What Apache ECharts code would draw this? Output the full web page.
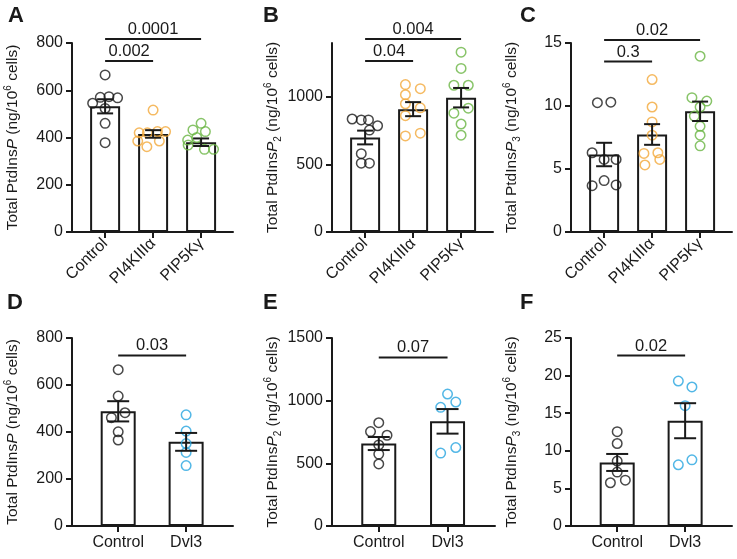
<!DOCTYPE html>
<html>
<head>
<meta charset="utf-8">
<title>Total PtdInsP</title>
<script src="https://cdn.jsdelivr.net/npm/echarts@6/dist/echarts.min.js"></script>
<style>
  html, body { margin: 0; padding: 0; background: #fff; }
  #main { width: 737px; height: 559px; }
</style>
</head>
<body>
<div id="main"></div>
<script>
// categories
var catsTop = ['Control', 'PI4KIIIα', 'PIP5Kγ'];
var catsBottom = ['Control', 'Dvl3'];

// A - PtdInsP, overexpression
var aMean = [532, 415, 380];
var aSem = [30, 16, 16];
var aPoints = [
  [665, 545, 570, 573, 568, 523, 460, 378],
  [516, 420, 420, 425, 425, 385, 361, 385],
  [460, 432, 425, 389, 400, 368, 350, 350]
];
var aJitter = [
  [0, -0.26, -0.1, 0.08, 0.26, 0, 0, 0],
  [0, -0.29, -0.12, 0.09, 0.26, -0.32, -0.13, 0.13],
  [0, -0.17, 0.09, -0.28, -0.09, -0.27, 0.07, 0.26]
];
var aSig = [[0, 1, 724], [0, 2, 817]];
var aSigText = ['0.002', '0.0001'];

// B - PtdInsP2
var bMean = [700, 910, 995];
var bSem = [51, 52, 72];
var bPoints = [
  [837, 830, 830, 787, 755, 580, 510, 510],
  [1092, 1062, 1017, 950, 920, 862, 712, 732],
  [1332, 1212, 1087, 1087, 917, 880, 800, 717]
];
var bJitter = [
  [-0.27, -0.08, 0.07, 0.26, 0.09, -0.08, -0.08, 0.09],
  [-0.16, 0.15, -0.16, -0.16, 0.15, -0.16, -0.16, 0.15],
  [0, 0, -0.15, 0.15, 0.15, -0.15, 0, 0]
];
var bSig = [[0, 1, 1267], [0, 2, 1430]];
var bSigText = ['0.04', '0.004'];

// C - PtdInsP3
var cMean = [6.15, 7.74, 9.58];
var cSem = [0.93, 0.82, 0.77];
var cPoints = [
  [10.26, 10.3, 6.29, 5.76, 5.76, 3.68, 4.08, 3.74],
  [12.1, 9.92, 8.74, 7.68, 6.24, 6.29, 5.32, 5.76],
  [13.95, 10.66, 10.39, 9.92, 9.2, 8.39, 7.68, 6.84]
];
var cJitter = [
  [-0.14, 0.14, -0.25, 0, 0.25, -0.25, 0, 0.25],
  [0, 0, 0, 0, -0.17, 0.12, -0.15, 0.16],
  [0, -0.17, 0.14, 0, -0.12, 0, 0, 0]
];
var cSig = [[0, 1, 13.53], [0, 2, 15.24]];
var cSigText = ['0.3', '0.02'];

// D - PtdInsP, Dvl3
var dMean = [488, 358];
var dSem = [43, 38];
var dPoints = [
  [665, 553, 461, 482, 401, 366],
  [473, 404, 351, 313, 257]
];
var dJitter = [
  [0, 0, -0.1, 0.1, 0, 0],
  [0, 0, 0, 0, 0]
];
var dSig = [[0, 1, 726]];
var dSigText = ['0.03'];

// E - PtdInsP2, Dvl3
var eMean = [658, 835];
var eSem = [52, 98];
var ePoints = [
  [824, 753, 724, 647, 574, 495],
  [1053, 989, 947, 626, 582]
];
var eJitter = [
  [0, -0.12, 0.12, 0, 0, 0],
  [0, 0.12, -0.1, 0.12, -0.1]
];
var eSig = [[0, 1, 1345]];
var eSigText = ['0.07'];

// F - PtdInsP3, Dvl3
var fMean = [8.45, 14.0];
var fSem = [1.13, 2.33];
var fPoints = [
  [12.54, 10.97, 8.63, 7.17, 5.75, 6.1],
  [19.28, 18.49, 16.0, 8.14, 8.8]
];
var fJitter = [
  [0, 0, 0, 0, -0.1, 0.12],
  [-0.1, 0.1, 0, -0.1, 0.1]
];
var fSig = [[0, 1, 22.67]];
var fSigText = ['0.02'];

var FONT = 'Liberation Sans, Arial, sans-serif';
var INK = '#1a1a1a';
var topColors = [INK, '#f2a93b', '#6ab544'];
var bottomColors = [INK, '#27a5e0'];

var panels = [
  { letter: 'A', lx: 3, ly: 0, grid: { left: 72, top: 43, width: 161, height: 189 }, cats: catsTop, colors: topColors,
    mean: aMean, sem: aSem, pts: aPoints, jit: aJitter, sig: aSig, sigText: aSigText, yMax: 800, yStep: 200, sub: '' },
  { letter: 'B', lx: 258, ly: 0, grid: { left: 332, top: 43, width: 161, height: 189 }, cats: catsTop, colors: topColors,
    mean: bMean, sem: bSem, pts: bPoints, jit: bJitter, sig: bSig, sigText: bSigText, yMax: 1400, yTicks: [0, 500, 1000], sub: '2' },
  { letter: 'C', lx: 515, ly: 0, grid: { left: 571, top: 43, width: 161, height: 189 }, cats: catsTop, colors: topColors,
    mean: cMean, sem: cSem, pts: cPoints, jit: cJitter, sig: cSig, sigText: cSigText, yMax: 15, yStep: 5, sub: '3' },
  { letter: 'D', lx: 2, ly: 287, grid: { left: 72, top: 338, width: 161, height: 188 }, cats: catsBottom, colors: bottomColors,
    mean: dMean, sem: dSem, pts: dPoints, jit: dJitter, sig: dSig, sigText: dSigText, yMax: 800, yStep: 200, sub: '' },
  { letter: 'E', lx: 258, ly: 287, grid: { left: 332, top: 338, width: 163, height: 188 }, cats: catsBottom, colors: bottomColors,
    mean: eMean, sem: eSem, pts: ePoints, jit: eJitter, sig: eSig, sigText: eSigText, yMax: 1500, yStep: 500, sub: '2' },
  { letter: 'F', lx: 515, ly: 287, grid: { left: 571, top: 338, width: 161, height: 188 }, cats: catsBottom, colors: bottomColors,
    mean: fMean, sem: fSem, pts: fPoints, jit: fJitter, sig: fSig, sigText: fSigText, yMax: 25, yStep: 5, sub: '3' }
];

function yName(sub) {
  return '{t|Total PtdIns}{i|P}' + (sub ? '{sub|' + sub + '}' : '') + '{t| (ng/10}{sup|6}{t| cells)}';
}

function errRender(cap) {
  return function (params, api) {
    var x = api.value(0);
    var hi = api.coord([x, api.value(2)]);
    var lo = api.coord([x, api.value(1)]);
    var st = { stroke: INK, lineWidth: 2 };
    return { type: 'group', children: [
      { type: 'line', shape: { x1: hi[0], y1: hi[1], x2: lo[0], y2: lo[1] }, style: st },
      { type: 'line', shape: { x1: hi[0] - cap / 2, y1: hi[1], x2: hi[0] + cap / 2, y2: hi[1] }, style: st },
      { type: 'line', shape: { x1: lo[0] - cap / 2, y1: lo[1], x2: lo[0] + cap / 2, y2: lo[1] }, style: st }
    ] };
  };
}

function sigRender(texts) {
  return function (params, api) {
    var a = api.coord([api.value(0), api.value(2)]);
    var b = api.coord([api.value(1), api.value(2)]);
    return { type: 'group', children: [
      { type: 'line', shape: { x1: a[0], y1: a[1], x2: b[0], y2: b[1] }, style: { stroke: INK, lineWidth: 2 } },
      { type: 'text', x: (a[0] + b[0]) / 2, y: a[1] - 1,
        style: { text: texts[params.dataIndex], textAlign: 'center', textVerticalAlign: 'bottom',
                 fontSize: 16.5, fontFamily: FONT, fill: INK } }
    ] };
  };
}

var option = {
  backgroundColor: '#fff',
  animation: false,
  textStyle: { fontFamily: FONT },
  title: [], grid: [], xAxis: [], yAxis: [], series: []
};

panels.forEach(function (p, i) {
  var isTop = p.cats.length === 3;
  var catIdx = p.cats.map(function (c, k) { return k; });
  option.title.push({ text: p.letter, left: p.lx, top: p.ly,
    textStyle: { fontSize: 22, fontWeight: 'bold', color: INK, fontFamily: FONT } });
  option.grid.push(p.grid);
  option.xAxis.push({
    gridIndex: i, type: 'value',
    min: isTop ? -0.69 : -0.68, max: isTop ? 2.665 : 1.69,
    splitLine: { show: false },
    axisLine: { onZero: false, lineStyle: { color: INK, width: 2 } },
    axisTick: { customValues: catIdx, length: 6, lineStyle: { color: INK, width: 2 } },
    axisLabel: { customValues: catIdx, color: INK, fontSize: 16, fontFamily: FONT,
      rotate: isTop ? 45 : 0, margin: isTop ? 9 : 9,
      formatter: function (v) { return p.cats[Math.round(v)]; } }
  });
  var yAx = {
    gridIndex: i, type: 'value', min: 0, max: p.yMax,
    splitLine: { show: false },
    axisLine: { show: true, onZero: false, lineStyle: { color: INK, width: 2 } },
    axisTick: { show: true, length: 6, lineStyle: { color: INK, width: 2 } },
    axisLabel: { color: INK, fontSize: 16, fontFamily: FONT, margin: 9,
      formatter: function (v) { return String(v); } },
    name: yName(p.sub), nameLocation: 'middle', nameRotate: 90, nameGap: 49,
    nameTextStyle: { color: INK, fontFamily: FONT, rich: {
      t: { fontSize: 15.5, lineHeight: 20, color: INK, fontFamily: FONT },
      i: { fontSize: 15.5, lineHeight: 20, fontStyle: 'italic', color: INK, fontFamily: FONT },
      sub: { fontSize: 10, lineHeight: 8, verticalAlign: 'bottom', color: INK, fontFamily: FONT },
      sup: { fontSize: 10, lineHeight: 8, verticalAlign: 'top', color: INK, fontFamily: FONT }
    } }
  };
  if (p.yTicks) {
    yAx.axisTick.customValues = p.yTicks;
    yAx.axisLabel.customValues = p.yTicks;
  } else {
    yAx.interval = p.yStep;
  }
  option.yAxis.push(yAx);

  option.series.push({
    type: 'bar', xAxisIndex: i, yAxisIndex: i, barWidth: isTop ? 30 : 35,
    data: p.mean.map(function (m, k) { return [k, m]; }),
    itemStyle: { color: '#fff', borderColor: INK, borderWidth: 2 }, z: 1
  });
  p.pts.forEach(function (grp, k) {
    option.series.push({
      type: 'scatter', xAxisIndex: i, yAxisIndex: i, symbol: 'circle', symbolSize: 9.5, z: 3,
      data: grp.map(function (v, j) { return [k + p.jit[k][j], v]; }),
      itemStyle: { color: 'rgba(255,255,255,0)', borderColor: p.colors[k], borderWidth: 1.5 }
    });
  });
  option.series.push({
    type: 'custom', xAxisIndex: i, yAxisIndex: i, z: 4, clip: false,
    renderItem: errRender(isTop ? 16 : 22),
    data: p.mean.map(function (m, k) { return [k, m - p.sem[k], m + p.sem[k]]; })
  });
  option.series.push({
    type: 'custom', xAxisIndex: i, yAxisIndex: i, z: 4, clip: false,
    renderItem: sigRender(p.sigText),
    data: p.sig
  });
});

var chart = echarts.init(document.getElementById('main'), null, { renderer: 'canvas' });
chart.setOption(option);
</script>
</body>
</html>
